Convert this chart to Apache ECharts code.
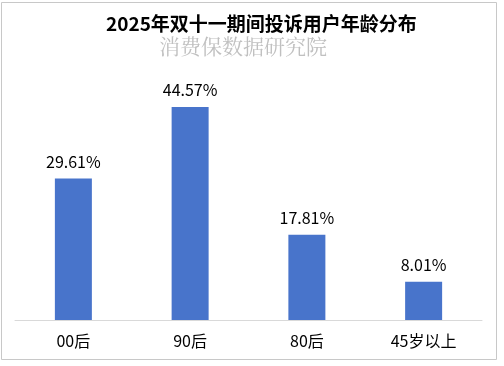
<!DOCTYPE html>
<html><head><meta charset="utf-8">
<script src="https://cdn.jsdelivr.net/npm/echarts@6/dist/echarts.min.js"></script>
<style>html,body{margin:0;padding:0;background:#fff}#c{width:504px;height:366px}</style>
</head><body><div id="c"></div>
<script>
const categories = ['00后', '90后', '80后', '45岁以上'];
const values = [29.61, 44.57, 17.81, 8.01];
const titleText = '2025年双十一期间投诉用户年龄分布';
const subtitleText = '消费保数据研究院';
const font = '"Noto Sans CJK SC", "Microsoft YaHei", sans-serif';
const chart = echarts.init(document.getElementById('c'), null, {renderer: 'canvas'});
chart.setOption({
  animation: false,
  backgroundColor: '#fff',
  graphic: [
    {type: 'rect', shape: {x: 1.5, y: 2.5, width: 495, height: 357}, style: {fill: 'none', stroke: '#c8c8c8', lineWidth: 1}, z: 0},
    {type: 'text', left: 106, top: 14, style: {text: titleText, font: 'bold 19px ' + font, fill: '#000'}},
    {type: 'text', left: 159, top: 36, style: {text: subtitleText, font: '21px "Noto Serif CJK SC", ' + font, fill: '#c0c0c0'}}
  ],
  grid: {left: 15, right: 22, top: 81, bottom: 46, containLabel: false},
  xAxis: {
    type: 'category', data: categories,
    axisLine: {lineStyle: {color: '#d9d9d9', width: 1}},
    axisTick: {show: false},
    axisLabel: {color: '#000', fontSize: 16, fontFamily: font, margin: 13}
  },
  yAxis: {type: 'value', min: 0, max: 50, show: false, splitLine: {show: false}},
  series: [{
    type: 'bar', data: values, barWidth: 37,
    itemStyle: {color: '#4874CB'},
    label: {show: true, position: 'top', distance: 9, color: '#000', fontSize: 16, fontFamily: font, formatter: p => p.value.toFixed(2) + '%'}
  }]
});
</script></body></html>
